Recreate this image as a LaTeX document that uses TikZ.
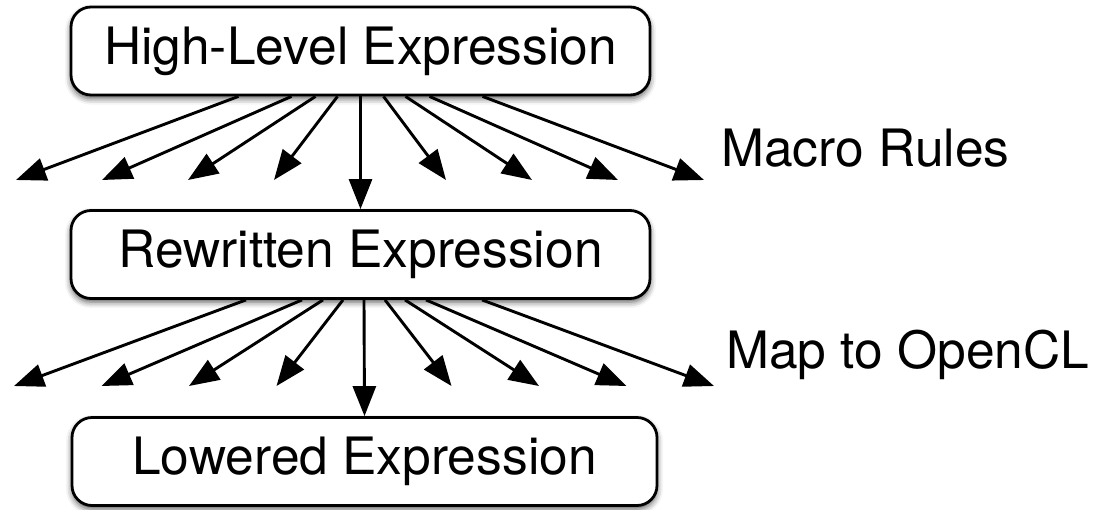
\documentclass[tikz,border=0pt]{standalone}
\usepackage{fontspec}
\setmainfont{TeX Gyre Heros}
\usepackage{tikz}
\usetikzlibrary{arrows.meta, positioning, shadows.blur}

\begin{document}
\begin{tikzpicture}[
  x=0.5pt, y=-0.5pt,
  stage/.style={
    draw, fill=white, line width=1.4pt, rounded corners=10pt,
    minimum height=44pt, inner sep=0pt,
    font=\fontsize{25.75}{30}\selectfont,
    blur shadow={shadow xshift=0pt, shadow yshift=-1.8pt,
                 shadow blur radius=3pt, shadow opacity=65}
  },
  passlabel/.style={
    inner sep=0pt, anchor=base west,
    font=\fontsize{25.75}{30}\selectfont
  },
  fan/.style={line width=1.45pt, -{Triangle[length=15pt, width=11.5pt]}}
]
\useasboundingbox (0,0) rectangle (1107,509);

% Stages
\node[stage, minimum width=289.5pt] (hle) at (360.5,51) {High-Level Expression};
\node[stage, minimum width=289.5pt] (rwe) at (360.5,254.5) {Rewritten Expression};
\node[stage, minimum width=292.5pt] (lwe) at (364.5,461.5) {Lowered Expression};

% Pass names
\node[passlabel] (macro) at (721,166.5) {Macro Rules};
\node[passlabel] (ocl) at (726,368.5) {Map to OpenCL};

% Fan of rewrites from the high-level expression
\foreach \k/\s in {-4/-122, -3/-69, -2/-45, -1/-23, 1/23, 2/45, 3/69, 4/122} {
  \coordinate (m\k) at (360+86*\k, 180);
  \draw[fan] ([xshift=\s*0.5pt]hle.south) -- (m\k);
}
\draw[fan] (hle.south) -- (rwe.north);

% Fan of lowerings from the rewritten expression
\foreach \k/\s in {-4/-118, -3/-62, -2/-41, -1/-21, 1/21, 2/41, 3/62, 4/118} {
  \coordinate (o\k) at (364+87.5*\k, 386);
  \draw[fan] ([xshift=\s*0.5pt+3.5*0.5pt]rwe.south) -- (o\k);
}
\draw[fan] ([xshift=1.75pt]rwe.south) -- (lwe.north);

\end{tikzpicture}
\end{document}
